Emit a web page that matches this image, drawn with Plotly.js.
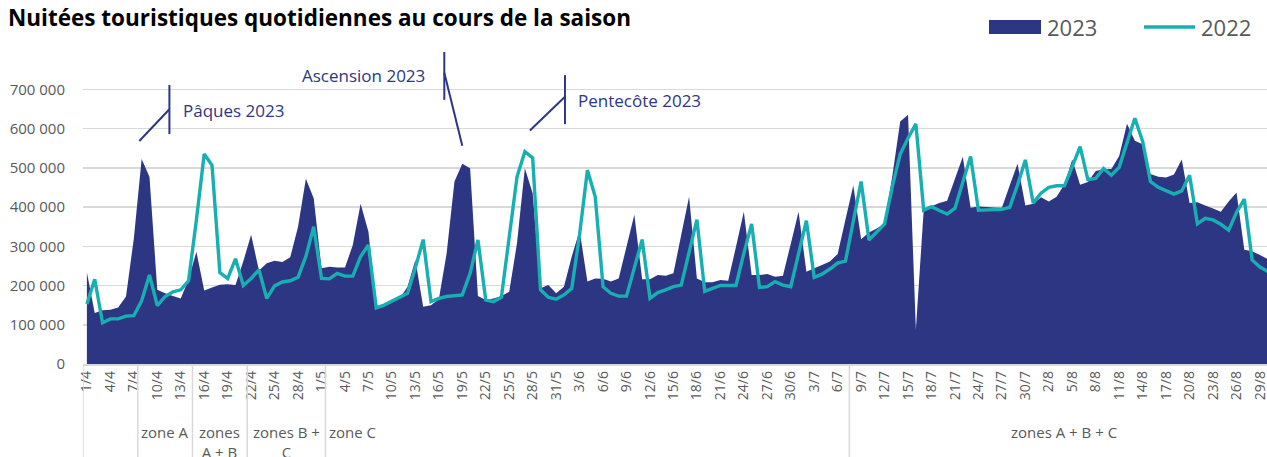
<!DOCTYPE html>
<html>
<head>
<meta charset="utf-8">
<script src="https://cdn.plot.ly/plotly-3.0.1.min.js"></script>
<style>html,body{margin:0;padding:0;background:#fff;}#chart{width:1267px;height:457px;}</style>
</head>
<body>
<div id="chart"></div>
<script>
// Categories: every day from 1/4 to 31/8
const days = [
 "1/4","2/4","3/4","4/4","5/4","6/4","7/4","8/4","9/4","10/4","11/4","12/4","13/4","14/4","15/4","16/4","17/4","18/4","19/4","20/4","21/4","22/4","23/4","24/4","25/4","26/4","27/4","28/4","29/4","30/4",
 "1/5","2/5","3/5","4/5","5/5","6/5","7/5","8/5","9/5","10/5","11/5","12/5","13/5","14/5","15/5","16/5","17/5","18/5","19/5","20/5","21/5","22/5","23/5","24/5","25/5","26/5","27/5","28/5","29/5","30/5","31/5",
 "1/6","2/6","3/6","4/6","5/6","6/6","7/6","8/6","9/6","10/6","11/6","12/6","13/6","14/6","15/6","16/6","17/6","18/6","19/6","20/6","21/6","22/6","23/6","24/6","25/6","26/6","27/6","28/6","29/6","30/6",
 "1/7","2/7","3/7","4/7","5/7","6/7","7/7","8/7","9/7","10/7","11/7","12/7","13/7","14/7","15/7","16/7","17/7","18/7","19/7","20/7","21/7","22/7","23/7","24/7","25/7","26/7","27/7","28/7","29/7","30/7","31/7",
 "1/8","2/8","3/8","4/8","5/8","6/8","7/8","8/8","9/8","10/8","11/8","12/8","13/8","14/8","15/8","16/8","17/8","18/8","19/8","20/8","21/8","22/8","23/8","24/8","25/8","26/8","27/8","28/8","29/8","30/8","31/8"
];

// Nuitées 2023 (area)
const nights2023 = [
 233000,130000,137000,138000,144000,172000,320000,522000,477000,189000,180000,173000,167000,215000,286000,187000,195000,202000,203000,201000,262000,329000,238000,257000,263000,260000,272000,350000,472000,422000,
 244000,248000,246000,246000,303000,408000,337000,146000,153000,159000,167000,197000,265000,146000,150000,165000,282000,465000,510000,499000,173000,163000,167000,173000,184000,308000,499000,435000,193000,201000,180000,
 197000,274000,340000,210000,218000,217000,210000,218000,299000,380000,216000,216000,227000,225000,231000,329000,426000,218000,208000,208000,214000,212000,299000,388000,227000,227000,229000,222000,225000,306000,
 388000,235000,244000,252000,261000,280000,368000,455000,318000,335000,345000,358000,480000,618000,635000,87000,392000,402000,410000,416000,472000,528000,398000,401000,400000,399000,398000,455000,510000,404000,408000,
 425000,414000,426000,458000,521000,457000,464000,492000,496000,497000,530000,612000,569000,560000,484000,477000,475000,483000,521000,410000,412000,404000,396000,388000,414000,437000,291000,287000,278000,267000,255000
];

// Nuitées 2022 (line)
const nights2022 = [
 153000,216000,105000,115000,115000,122000,123000,161000,227000,149000,172000,184000,189000,212000,367000,535000,506000,233000,218000,268000,200000,218000,240000,167000,199000,209000,212000,221000,274000,350000,
 218000,217000,231000,224000,224000,274000,303000,143000,150000,160000,172000,180000,245000,317000,159000,167000,172000,174000,176000,231000,316000,163000,159000,170000,325000,477000,541000,525000,189000,170000,165000,
 176000,193000,330000,494000,426000,197000,180000,173000,173000,245000,317000,167000,182000,189000,197000,201000,282000,368000,185000,193000,200000,200000,200000,282000,357000,195000,197000,210000,201000,197000,
 284000,365000,221000,229000,242000,257000,262000,365000,465000,316000,335000,357000,453000,535000,575000,612000,392000,401000,391000,382000,397000,461000,529000,392000,392000,394000,394000,399000,456000,520000,410000,
 435000,450000,454000,454000,503000,554000,470000,473000,498000,481000,501000,567000,626000,567000,465000,450000,441000,433000,441000,481000,357000,371000,367000,356000,341000,386000,420000,265000,247000,236000,230000
];

// Y axis ticks
const yTickVals = [0,100000,200000,300000,400000,500000,600000,700000];
const yTickText = ["0","100 000","200 000","300 000","400 000","500 000","600 000","700 000"];
// X tick labels: one every 3 days
const xTickVals = days.filter((d, i) => i % 3 === 0);

// School holiday zones (first and last day of each band)
const zoneNames = ["zone A", "zones<br>A + B", "zones B +<br>C", "zone C", "zones A + B + C"];
const zoneStart = ["8/4", "15/4", "22/4", "2/5", "8/7"];
const zoneEnd   = ["14/4", "21/4", "1/5", "8/5", "31/8"];

// Holiday call-outs: label, text anchor (day index, value), leader polyline
const callouts = [
  {text: "Pâques 2023", tx: 12.0, ty: 645000, anchor: "left",
   line: [[6.7, 568000], [10.55, 649000]], bar: [10.55, 586000, 711000]},
  {text: "Ascension 2023", tx: 43.5, ty: 736000, anchor: "right",
   line: [[45.7, 742000], [48.0, 556000]], bar: [45.7, 673000, 795000]},
  {text: "Pentecôte 2023", tx: 62.5, ty: 671000, anchor: "left",
   line: [[56.65, 595000], [61.13, 681000]], bar: [61.13, 611000, 736000]}
];

const NAVY = "#2D3683";
const TEAL = "#17AFB1";
const GREY = "#595959";
const GRID = "#D9D9D9";
const FONT = "Open Sans, Noto Sans, sans-serif";

const traces = [
  {type: "scatter", name: "2023", x: days, y: nights2023, mode: "none",
   fill: "tozeroy", fillcolor: NAVY, hoverinfo: "x+y"},
  {type: "scatter", name: "2022", x: days, y: nights2022, mode: "lines",
   line: {color: TEAL, width: 3.4}, hoverinfo: "x+y"}
];

const shapes = [];
const annotations = [];
const idx = d => days.indexOf(d);

// zone separators below the axis
const seps = [-0.5];
zoneStart.forEach(s => seps.push(idx(s) - 0.5));
seps.forEach(b => shapes.push({type: "line", xref: "x", yref: "paper", x0: b, x1: b, y0: 0, y1: -0.31,
  line: {color: GRID, width: 1.5}}));
zoneNames.forEach((z, k) => {
  const c = (idx(zoneStart[k]) + idx(zoneEnd[k])) / 2;
  annotations.push({xref: "x", yref: "paper", x: c, y: -0.178, yanchor: "top", xanchor: "center",
    text: z, showarrow: false, align: "center", font: {family: FONT, size: 15, color: GREY}});
});

// call-outs
callouts.forEach(c => {
  shapes.push({type: "line", xref: "x", yref: "y", x0: c.line[0][0], y0: c.line[0][1], x1: c.line[1][0], y1: c.line[1][1],
    line: {color: NAVY, width: 2}});
  shapes.push({type: "line", xref: "x", yref: "y", x0: c.bar[0], y0: c.bar[1], x1: c.bar[0], y1: c.bar[2],
    line: {color: NAVY, width: 2}});
  annotations.push({xref: "x", yref: "y", x: c.tx, y: c.ty, xanchor: c.anchor, yanchor: "middle",
    text: c.text, showarrow: false, font: {family: FONT, size: 17, color: NAVY}});
});

// legend (drawn manually to match the swatches)
const W = 1184, H = 314, L = 83, T = 50;
const px = x => (x - L) / W;
const py = y => (T + H - y) / H;
shapes.push({type: "rect", xref: "paper", yref: "paper", x0: px(989), x1: px(1041), y0: py(34), y1: py(20),
  fillcolor: NAVY, line: {width: 0}});
shapes.push({type: "line", xref: "paper", yref: "paper", x0: px(1144), x1: px(1195), y0: py(27), y1: py(27),
  line: {color: TEAL, width: 3.5}});
annotations.push({xref: "paper", yref: "paper", x: px(1045), y: py(27), xanchor: "left", yanchor: "middle",
  text: "2023", showarrow: false, font: {family: FONT, size: 22, color: GREY}});
annotations.push({xref: "paper", yref: "paper", x: px(1199), y: py(27), xanchor: "left", yanchor: "middle",
  text: "2022", showarrow: false, font: {family: FONT, size: 22, color: GREY}});

const layout = {
  width: 1267, height: 457, autosize: false,
  margin: {l: L, r: 0, t: T, b: 93, pad: 0},
  paper_bgcolor: "#fff", plot_bgcolor: "#fff",
  showlegend: false,
  title: {text: "Nuitées touristiques quotidiennes au cours de la saison",
    x: 8 / 1267, xanchor: "left", xref: "container", y: 1 - 18 / 457, yref: "container", yanchor: "middle",
    font: {family: FONT, size: 22.5, weight: 700, color: "#000"}},
  xaxis: {type: "category", range: [-0.5, 150.9], tickmode: "array", tickvals: xTickVals, ticktext: xTickVals,
    tickangle: -90, ticks: "", showgrid: false, zeroline: false,
    showline: true, linecolor: GRID, linewidth: 1.5,
    tickfont: {family: FONT, size: 14, color: GREY}},
  yaxis: {range: [0, 800000], tickmode: "array", tickvals: yTickVals, ticktext: yTickText,
    showgrid: true, gridcolor: GRID, gridwidth: 1.5, zeroline: false, showline: false,
    ticks: "outside", ticklen: 14, tickcolor: "rgba(0,0,0,0)",
    tickfont: {family: FONT, size: 15, color: GREY}},
  shapes: shapes,
  annotations: annotations
};

Plotly.newPlot("chart", traces, layout, {displayModeBar: false, staticPlot: true});
</script>
</body>
</html>
